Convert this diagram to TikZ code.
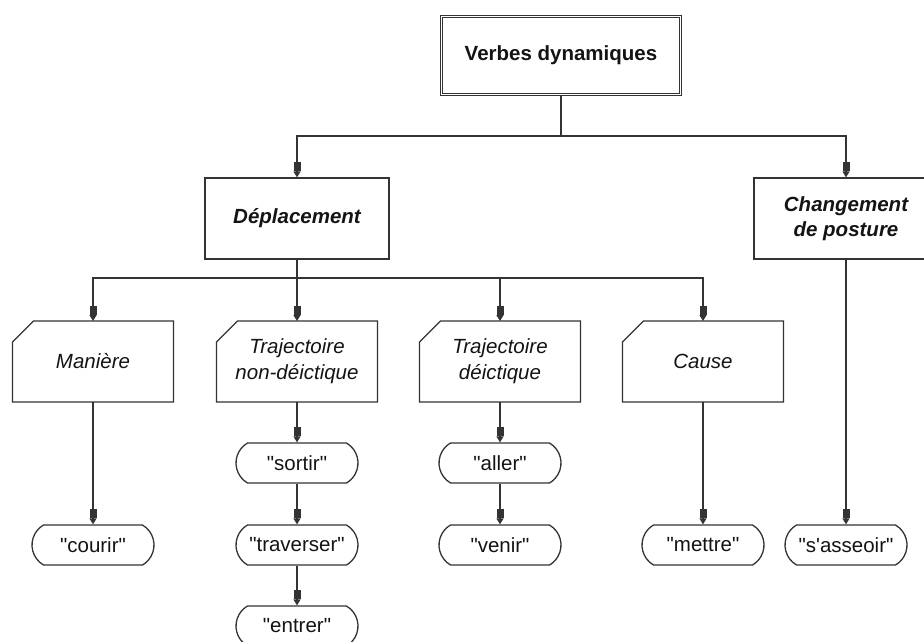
\documentclass[tikz,border=0pt]{standalone}
\usepackage{fontspec}
\setmainfont{Liberation Sans}[Ligatures=TeXOff]
\usetikzlibrary{shapes.misc,arrows.meta}
\begin{document}
\begin{tikzpicture}[x=1pt,y=-1pt,
  every node/.style={font=\fontsize{20.5}{25}\selectfont, align=center, inner sep=0pt, text=black!92},
  line/.style={draw=black!80, line width=1.3pt},
  arr/.style={line, -{Rectangle[length=9pt,width=7pt]Triangle[length=6pt,width=7pt]}},
  topbox/.style={draw=black!80, line width=1.1pt, double, double distance=1.6pt, minimum width=239pt, minimum height=78pt, font=\fontsize{20.5}{25}\selectfont\bfseries},
  mainbox/.style={draw=black!80, line width=1.3pt, minimum width=184pt, minimum height=81pt, font=\fontsize{20.5}{25}\selectfont\bfseries\itshape},
  catbox/.style={minimum width=161pt, minimum height=81pt, outer sep=0pt, font=\fontsize{20.5}{26}\selectfont\itshape},
  pill/.style={draw=black!80, line width=1.3pt, rounded rectangle, rounded rectangle arc length=120, minimum width=122pt, minimum height=40pt}
]
\useasboundingbox (0,0) rectangle (924,641);
\fill[white] (0,0) rectangle (924,641);

\node[topbox] (vd) at (561,55.5) {Verbes dynamiques};
\draw[draw=black!80, line width=1.2pt] ([xshift=0.8pt]vd.north east) -- ([xshift=0.8pt,yshift=-0.8pt]vd.south east) -- ([yshift=-0.8pt]vd.south west);
\node[mainbox] (dep) at (297,218.5) {Déplacement};
\node[mainbox] (chg) at (846,218.5) {Changement\\de posture};

\node[catbox] (man) at (93,361.5) {Manière};
\node[catbox] (tnd) at (297,361.5) {Trajectoire\\non-déictique};
\node[catbox] (td) at (500,361.5) {Trajectoire\\déictique};
\node[catbox] (cau) at (703,361.5) {Cause};
\foreach \n in {man,tnd,td,cau}
  \draw[line] ([yshift=-21pt]\n.north west) -- ([xshift=21pt]\n.north west) -- (\n.north east) -- (\n.south east) -- (\n.south west) -- cycle;

\node[pill] (courir) at (93,545) {"courir"};
\node[pill] (sortir) at (297,463) {"sortir"};
\node[pill] (traverser) at (297,545) {"traverser"};
\node[pill] (entrer) at (297,626) {"entrer"};
\node[pill] (aller) at (500,463) {"aller"};
\node[pill] (venir) at (500,545) {"venir"};
\node[pill] (mettre) at (703,545) {"mettre"};
\node[pill] (asseoir) at (846,545) {"s'asseoir"};

\coordinate (b1) at (561,136);
\coordinate (b2) at (297,278);

\draw[line] (vd.south) -- (b1);
\draw[arr] (b1) -| (dep.north);
\draw[arr] (b1) -| (chg.north);

\draw[line] (dep.south) -- (b2);
\draw[arr] (b2) -| (man.north);
\draw[arr] (b2) -- (tnd.north);
\draw[arr] (b2) -| (td.north);
\draw[arr] (b2) -| (cau.north);

\draw[arr] (man.south) -- (courir.north);
\draw[arr] (tnd.south) -- (sortir.north);
\draw[arr] (sortir.south) -- (traverser.north);
\draw[arr] (traverser.south) -- (entrer.north);
\draw[arr] (td.south) -- (aller.north);
\draw[arr] (aller.south) -- (venir.north);
\draw[arr] (cau.south) -- (mettre.north);
\draw[arr] (chg.south) -- (asseoir.north);
\end{tikzpicture}
\end{document}
